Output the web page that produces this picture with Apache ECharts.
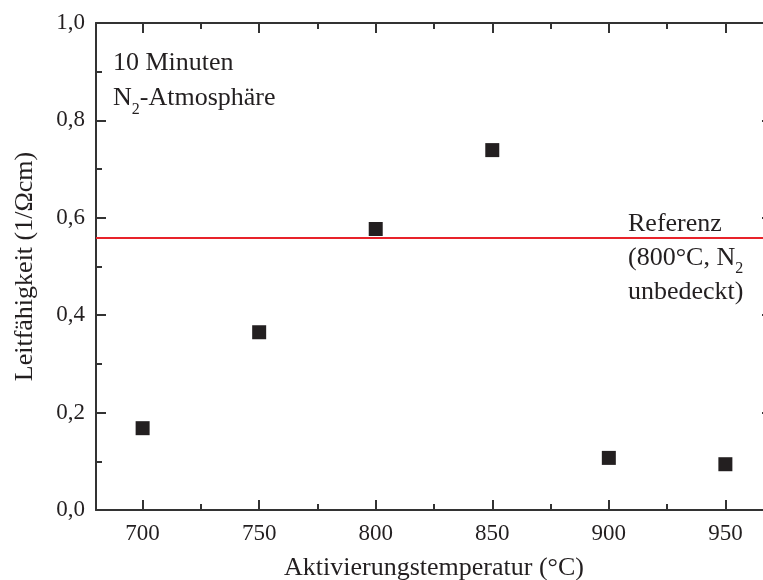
<!DOCTYPE html>
<html><head><meta charset="utf-8">
<script src="https://cdn.jsdelivr.net/npm/echarts@6/dist/echarts.min.js"></script>
<style>html,body{margin:0;padding:0;background:#fff}#c{width:763px;height:580px}</style>
</head><body><div id="c"></div>
<script>
const temperatures = [700, 750, 800, 850, 900, 950];
const conductivity = [0.168, 0.365, 0.577, 0.739, 0.107, 0.094];
const referenceValue = 0.563;
const xTitle = 'Aktivierungstemperatur (°C)';
const yTitle = 'Leitfähigkeit (1/Ωcm)';

const FONT = '"Liberation Serif", "Times New Roman", serif';
const axisColor = '#333';
const chart = echarts.init(document.getElementById('c'));

const xCommon = {
  type: 'value', min: 680, max: 970, splitNumber: 6,
  axisLine: {show: true, onZero: false, lineStyle: {color: axisColor, width: 2}},
  axisTick: {show: true, inside: true, length: 10, lineStyle: {color: axisColor, width: 2}},
  minorTick: {show: true, splitNumber: 2, length: 6, lineStyle: {color: axisColor, width: 2}},
  splitLine: {show: false}
};
const yCommon = {
  type: 'value', min: 0, max: 1, interval: 0.2,
  axisLine: {show: true, onZero: false, lineStyle: {color: axisColor, width: 2}},
  axisTick: {show: true, inside: true, length: 10, lineStyle: {color: axisColor, width: 2}},
  minorTick: {show: true, splitNumber: 2, length: 6, lineStyle: {color: axisColor, width: 2}},
  splitLine: {show: false}
};

chart.setOption({
  animation: false,
  backgroundColor: '#fff',
  grid: {left: 96, top: 23, height: 487, width: 676, containLabel: false, outerBoundsMode: 'none'},
  xAxis: [
    Object.assign({}, xCommon, {
      position: 'bottom',
      name: xTitle, nameLocation: 'middle', nameGap: 45,
      nameTextStyle: {fontFamily: FONT, fontSize: 26, color: '#231f20'},
      axisLabel: {fontFamily: FONT, fontSize: 23, color: '#231f20', margin: 12,
        showMinLabel: false, showMaxLabel: false,
        formatter: v => (v % 50 === 0 ? String(v) : '')}
    }),
    Object.assign({}, xCommon, {position: 'top', axisLabel: {show: false}})
  ],
  yAxis: [
    Object.assign({}, yCommon, {
      position: 'left',
      name: yTitle, nameLocation: 'middle', nameGap: 58,
      nameTextStyle: {fontFamily: FONT, fontSize: 26, color: '#231f20'},
      axisLabel: {fontFamily: FONT, fontSize: 23, color: '#231f20', margin: 11,
        formatter: v => v.toFixed(1).replace('.', ',')}
    }),
    Object.assign({}, yCommon, {position: 'right', axisLabel: {show: false}})
  ],
  series: [{
    type: 'scatter', xAxisIndex: 0, yAxisIndex: 0,
    symbol: 'rect', symbolSize: 14,
    itemStyle: {color: '#231f20', opacity: 1},
    data: temperatures.map((t, i) => [t, conductivity[i]]),
    markLine: {
      silent: true, symbol: ['none', 'none'],
      label: {show: false},
      lineStyle: {color: '#e8232a', width: 2, type: 'solid', opacity: 1},
      data: [{yAxis: referenceValue}]
    }
  }],
  graphic: [
    {type: 'text', left: 113, top: 46, style: {
      text: '10 Minuten\nN{sub|2}-Atmosphäre', fontFamily: FONT, fontSize: 26, fill: '#231f20', lineHeight: 35,
      rich: {sub: {fontFamily: FONT, fontSize: 16, fill: '#231f20', padding: [22, 0, 0, 0]}}
    }},
    {type: 'text', left: 628, top: 207, style: {
      text: 'Referenz\n(800°C, N{sub|2}\nunbedeckt)', fontFamily: FONT, fontSize: 26, fill: '#231f20', lineHeight: 34,
      rich: {sub: {fontFamily: FONT, fontSize: 16, fill: '#231f20', padding: [22, 0, 0, 0]}}
    }}
  ]
});
</script></body></html>
